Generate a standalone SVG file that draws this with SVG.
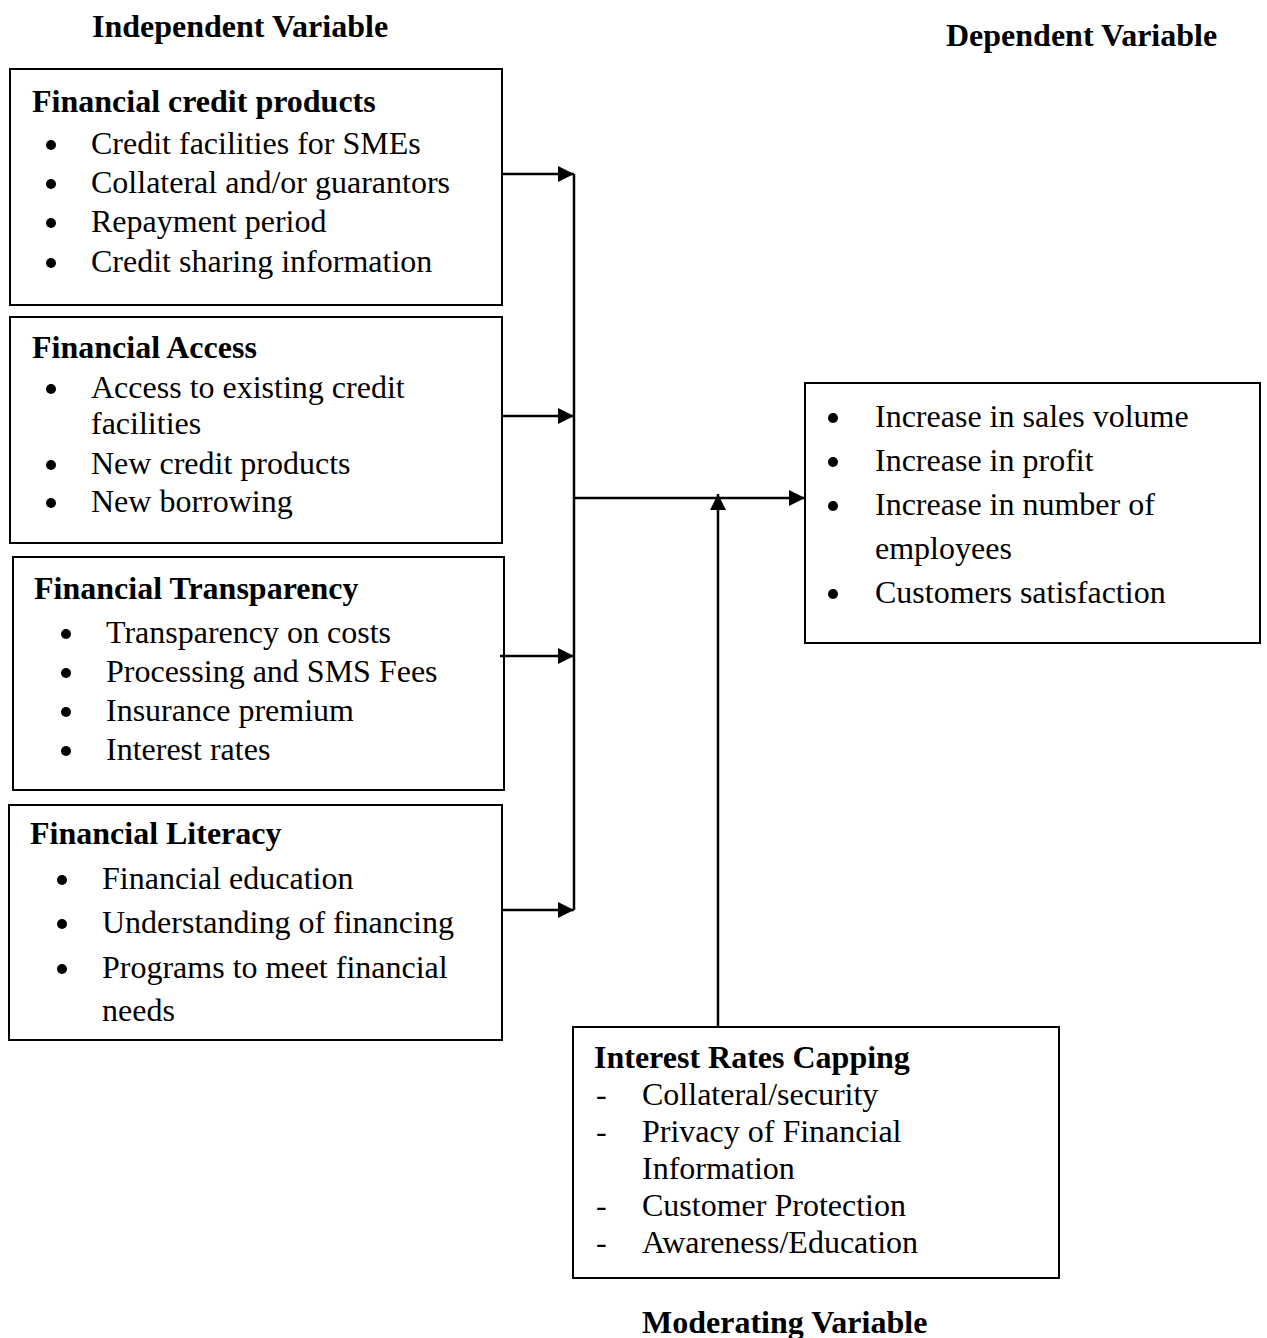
<svg xmlns="http://www.w3.org/2000/svg" width="1267" height="1338" viewBox="0 0 1267 1338">
<style>
text{font-family:"Liberation Serif","Times New Roman",serif;font-size:32px;fill:#000}
.b{font-weight:bold}
.box{fill:#fff;stroke:#000;stroke-width:2}
.c{stroke:#000;stroke-width:2.5;fill:none}
.dot{fill:#000}
</style>
<defs>
<marker id="ah" viewBox="0 0 10 10" refX="10" refY="5" markerWidth="16" markerHeight="16" markerUnits="userSpaceOnUse" orient="auto">
<path d="M0,0 L10,5 L0,10 z" fill="#000"/>
</marker>
</defs>
<rect width="1267" height="1338" fill="#fff"/>
<text class="b" x="92" y="37">Independent Variable</text>
<text class="b" x="946" y="46">Dependent Variable</text>
<text class="b" x="642" y="1333">Moderating Variable</text>

<g id="n1">
<rect class="box" x="10" y="69" width="492" height="236"/>
<text class="b" x="32" y="112">Financial credit products</text>
<circle class="dot" cx="51" cy="145" r="5"/><text x="91" y="154">Credit facilities for SMEs</text>
<circle class="dot" cx="51" cy="184" r="5"/><text x="91" y="193">Collateral and/or guarantors</text>
<circle class="dot" cx="51" cy="223" r="5"/><text x="91" y="232">Repayment period</text>
<circle class="dot" cx="51" cy="263" r="5"/><text x="91" y="272">Credit sharing information</text>
</g>

<g id="n2">
<rect class="box" x="10" y="317" width="492" height="226"/>
<text class="b" x="32" y="358">Financial Access</text>
<circle class="dot" cx="51" cy="389" r="5"/><text x="91" y="398">Access to existing credit</text>
<text x="91" y="434">facilities</text>
<circle class="dot" cx="51" cy="465" r="5"/><text x="91" y="474">New credit products</text>
<circle class="dot" cx="51" cy="503" r="5"/><text x="91" y="512">New borrowing</text>
</g>

<g id="n3">
<rect class="box" x="13" y="557" width="491" height="233"/>
<text class="b" x="34" y="599">Financial Transparency</text>
<circle class="dot" cx="66" cy="634" r="5"/><text x="106" y="643">Transparency on costs</text>
<circle class="dot" cx="66" cy="673" r="5"/><text x="106" y="682">Processing and SMS Fees</text>
<circle class="dot" cx="66" cy="712" r="5"/><text x="106" y="721">Insurance premium</text>
<circle class="dot" cx="66" cy="751" r="5"/><text x="106" y="760">Interest rates</text>
</g>

<g id="n4">
<rect class="box" x="9" y="805" width="493" height="235"/>
<text class="b" x="30" y="844">Financial Literacy</text>
<circle class="dot" cx="62" cy="880" r="5"/><text x="102" y="889">Financial education</text>
<circle class="dot" cx="62" cy="924" r="5"/><text x="102" y="933">Understanding of financing</text>
<circle class="dot" cx="62" cy="969" r="5"/><text x="102" y="978">Programs to meet financial</text>
<text x="102" y="1021">needs</text>
</g>

<g id="dep">
<rect class="box" x="805" y="383" width="455" height="260"/>
<circle class="dot" cx="833" cy="418" r="5"/><text x="875" y="427">Increase in sales volume</text>
<circle class="dot" cx="833" cy="462" r="5"/><text x="875" y="471">Increase in profit</text>
<circle class="dot" cx="833" cy="506" r="5"/><text x="875" y="515">Increase in number of</text>
<text x="875" y="559">employees</text>
<circle class="dot" cx="833" cy="594" r="5"/><text x="875" y="603">Customers satisfaction</text>
</g>

<g id="mod">
<rect class="box" x="573" y="1027" width="486" height="251"/>
<text class="b" x="594" y="1068">Interest Rates Capping</text>
<text x="596" y="1105">-</text><text x="642" y="1105">Collateral/security</text>
<text x="596" y="1142">-</text><text x="642" y="1142">Privacy of Financial</text>
<text x="642" y="1179">Information</text>
<text x="596" y="1216">-</text><text x="642" y="1216">Customer Protection</text>
<text x="596" y="1253">-</text><text x="642" y="1253">Awareness/Education</text>
</g>

<g id="connectors">
<line class="c" x1="502" y1="174" x2="574" y2="174" marker-end="url(#ah)"/>
<line class="c" x1="502" y1="416" x2="574" y2="416" marker-end="url(#ah)"/>
<line class="c" x1="500" y1="656" x2="574" y2="656" marker-end="url(#ah)"/>
<line class="c" x1="502" y1="910" x2="574" y2="910" marker-end="url(#ah)"/>
<line class="c" x1="574" y1="174" x2="574" y2="910"/>
<line class="c" x1="574" y1="498" x2="805" y2="498" marker-end="url(#ah)"/>
<line class="c" x1="718" y1="1027" x2="718" y2="494" marker-end="url(#ah)"/>
</g>
</svg>
